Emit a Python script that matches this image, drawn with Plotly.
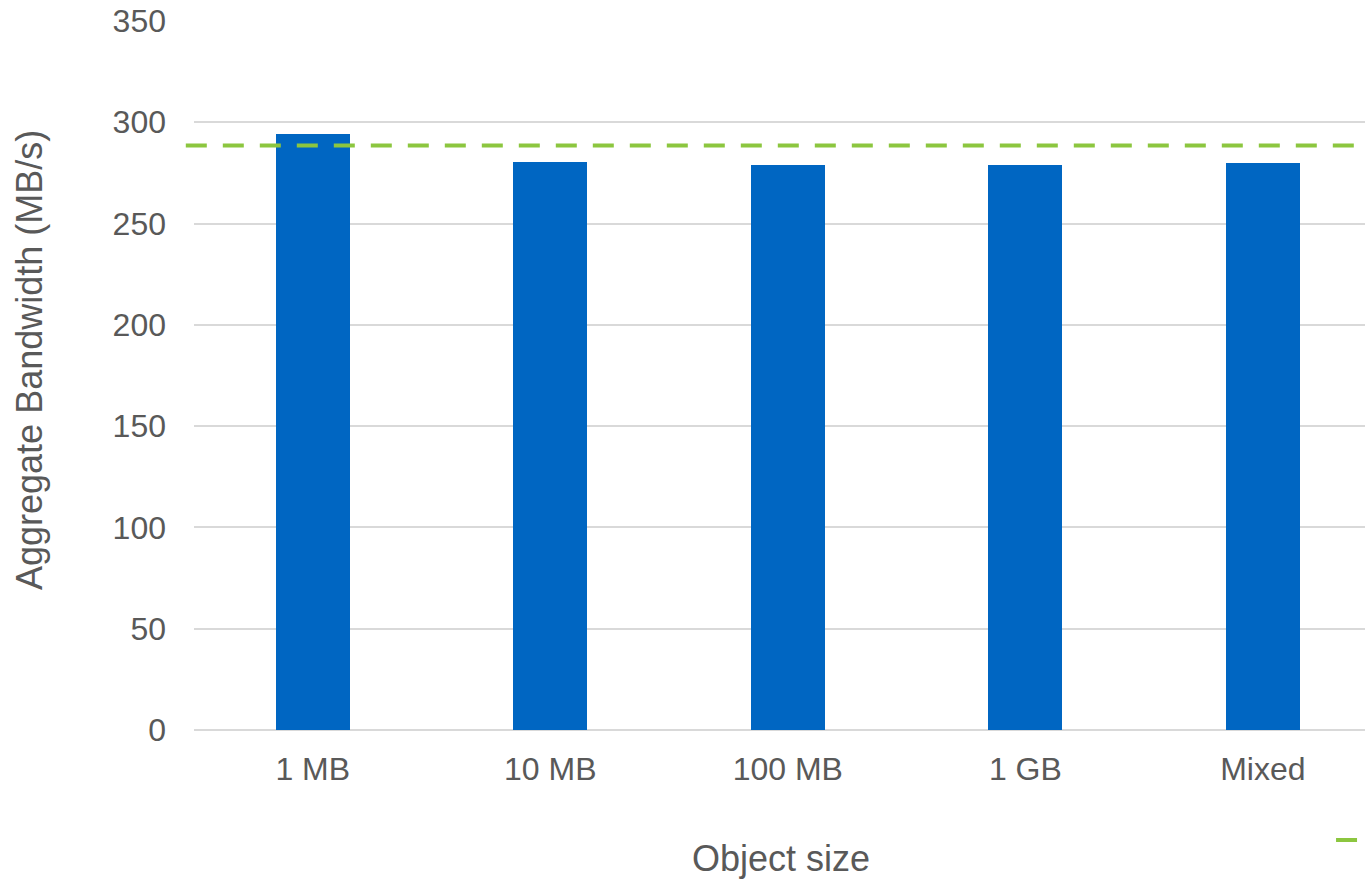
import plotly.graph_objects as go

# Aggregate bandwidth per object size
categories = ["1 MB", "10 MB", "100 MB", "1 GB", "Mixed"]
bandwidth = [294.4, 280.2, 279.1, 278.9, 280.1]
reference_bw = 288.6
y_ticks = [0, 50, 100, 150, 200, 250, 300, 350]

FONT = "Liberation Sans, Arial, sans-serif"
GREY_TEXT = "#595959"
BAR_BLUE = "#0066C2"
LINE_GREEN = "#8CC63F"

positions = list(range(len(categories)))

fig = go.Figure()

fig.add_trace(go.Bar(
    x=positions,
    y=bandwidth,
    width=0.312,
    marker=dict(color=BAR_BLUE, line=dict(width=0)),
    showlegend=False,
    hoverinfo="x+y",
))

# legend sample for the dashed reference line
fig.add_trace(go.Scatter(
    x=[None], y=[None],
    mode="lines",
    name="",
    line=dict(color=LINE_GREEN, width=4, dash="21px,16px"),
    showlegend=True,
))

# dashed reference line across the plot
fig.add_shape(
    type="line",
    xref="paper", yref="y",
    x0=-0.007, x1=1.0,
    y0=reference_bw, y1=reference_bw,
    line=dict(color=LINE_GREEN, width=4, dash="21px,16px"),
    layer="above",
)

fig.update_layout(
    width=1365,
    height=879,
    margin=dict(l=194, r=0, t=21, b=149, autoexpand=False),
    paper_bgcolor="white",
    plot_bgcolor="white",
    font=dict(family=FONT, color=GREY_TEXT, size=32),
    bargap=0,
    legend=dict(
        x=0.971, xanchor="left",
        y=-0.155, yanchor="middle",
        orientation="h",
        font=dict(size=20, color=GREY_TEXT),
        bgcolor="rgba(0,0,0,0)",
    ),
    xaxis=dict(
        type="linear",
        range=[-0.5, 4.43],
        tickmode="array",
        tickvals=positions,
        ticktext=categories,
        showgrid=False,
        zeroline=False,
        showline=False,
        ticks="",
        ticklabelstandoff=17,
        tickfont=dict(size=32, color=GREY_TEXT, family=FONT),
    ),
    yaxis=dict(
        range=[0, 350],
        tickmode="array",
        tickvals=y_ticks,
        showgrid=True,
        gridcolor="#D9D9D9",
        gridwidth=1.5,
        zeroline=True,
        zerolinecolor="#D9D9D9",
        zerolinewidth=1.5,
        showline=False,
        ticks="",
        ticklabelstandoff=27,
        tickfont=dict(size=32, color=GREY_TEXT, family=FONT),
    ),
    annotations=[
        dict(
            text="Object size",
            xref="paper", yref="paper",
            x=(780.5 - 194) / 1171, y=(730 - 858) / 709,
            xanchor="center", yanchor="middle",
            showarrow=False,
            font=dict(size=36, color=GREY_TEXT, family=FONT),
        ),
        dict(
            text="Aggregate Bandwidth (MB/s)",
            xref="paper", yref="paper",
            x=(29 - 194) / 1171, y=(730 - 360) / 709,
            xanchor="center", yanchor="middle",
            textangle=-90,
            showarrow=False,
            font=dict(size=36, color=GREY_TEXT, family=FONT),
        ),
    ],
)

fig.write_html("out.html")
